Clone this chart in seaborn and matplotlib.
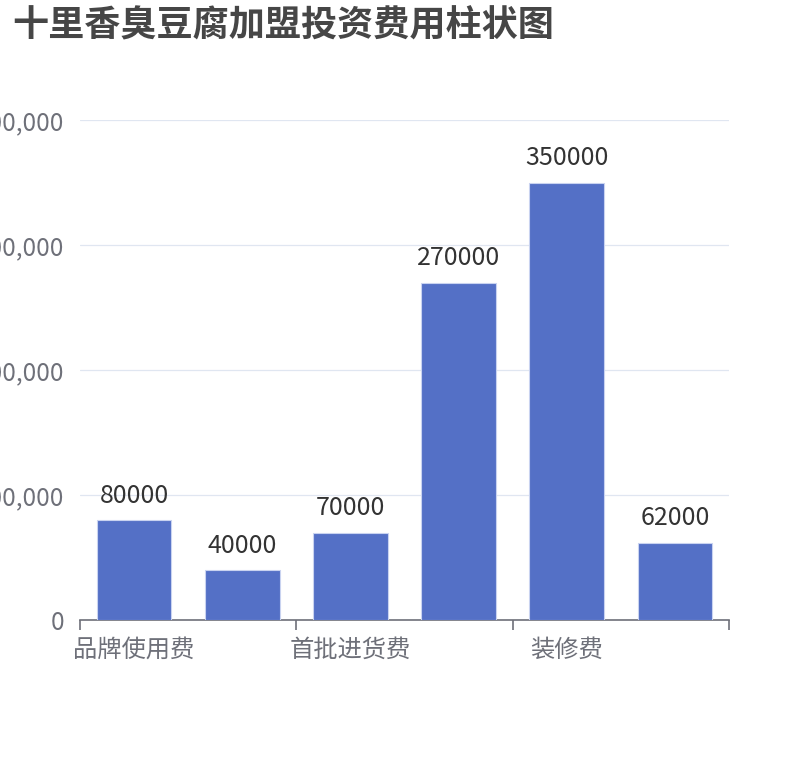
"""
十里香臭豆腐加盟投资费用柱状图 — bar chart redraw with seaborn.
"""
import matplotlib
matplotlib.use('Agg')  # headless save
import matplotlib.pyplot as plt
import matplotlib.ticker as mticker
import seaborn as sns

# data; categories 2, 4, 6 have hidden labels there
categories = ['品牌使用费', '加盟费', '首批进货费', '设备费', '装修费', '其他费用']
values = [80000, 40000, 70000, 270000, 350000, 62000]
y_ticks = [0, 100000, 200000, 300000, 400000]
title = '十里香臭豆腐加盟投资费用柱状图'

BAR = '#5470c6'
AXIS = '#6e7079'
GRID = '#e0e6f1'

sns.set_style('white')
plt.rcParams['font.family'] = ['Noto Sans CJK SC', 'DejaVu Sans']

fig = plt.figure(figsize=(8.1, 7.6), dpi=100)
ax = fig.add_axes([80 / 810, 140 / 760, 649 / 810, 500 / 760])

sns.barplot(x=categories, y=values, color=BAR, saturation=1, width=0.69,
            edgecolor='#c9d3f0', linewidth=0.8, ax=ax, zorder=3)

ax.set_ylim(0, 400000)
ax.set_xlim(-0.5, len(categories) - 0.5)
ax.set_yticks(y_ticks)
ax.yaxis.set_major_formatter(mticker.FuncFormatter(lambda v, _: f'{int(v):,}'))
ax.tick_params(axis='y', left=False, length=0, pad=11.5, labelsize=17.5, labelcolor=AXIS)
ax.grid(axis='y', color=GRID, linewidth=0.9, zorder=0)
ax.set_axisbelow(True)

# ticks on category boundaries every two categories, labels on every other bar
ax.set_xticks([-0.5, 1.5, 3.5, 5.5])
ax.set_xticklabels([])
ax.tick_params(axis='x', which='major', bottom=True, length=7, width=1.2, color=AXIS)
ax.set_xticks([0, 2, 4], minor=True)
ax.set_xticklabels(categories[::2], minor=True)
ax.tick_params(axis='x', which='minor', bottom=True, length=0, pad=12,
               labelsize=17.5, labelcolor=AXIS)

for side in ['left', 'right', 'top']:
    ax.spines[side].set_visible(False)
ax.spines['bottom'].set_color(AXIS)
ax.spines['bottom'].set_linewidth(1.2)
ax.set_xlabel('')
ax.set_ylabel('')

ax.bar_label(ax.containers[0], labels=[str(v) for v in values],
             padding=8, fontsize=18, color='#333333')

fig.text(12 / 810, 1 - 7 / 760, title, ha='left', va='top',
         fontsize=26, fontweight='bold', color='#464646')

fig.savefig('out.png', dpi=100)
plt.close(fig)
